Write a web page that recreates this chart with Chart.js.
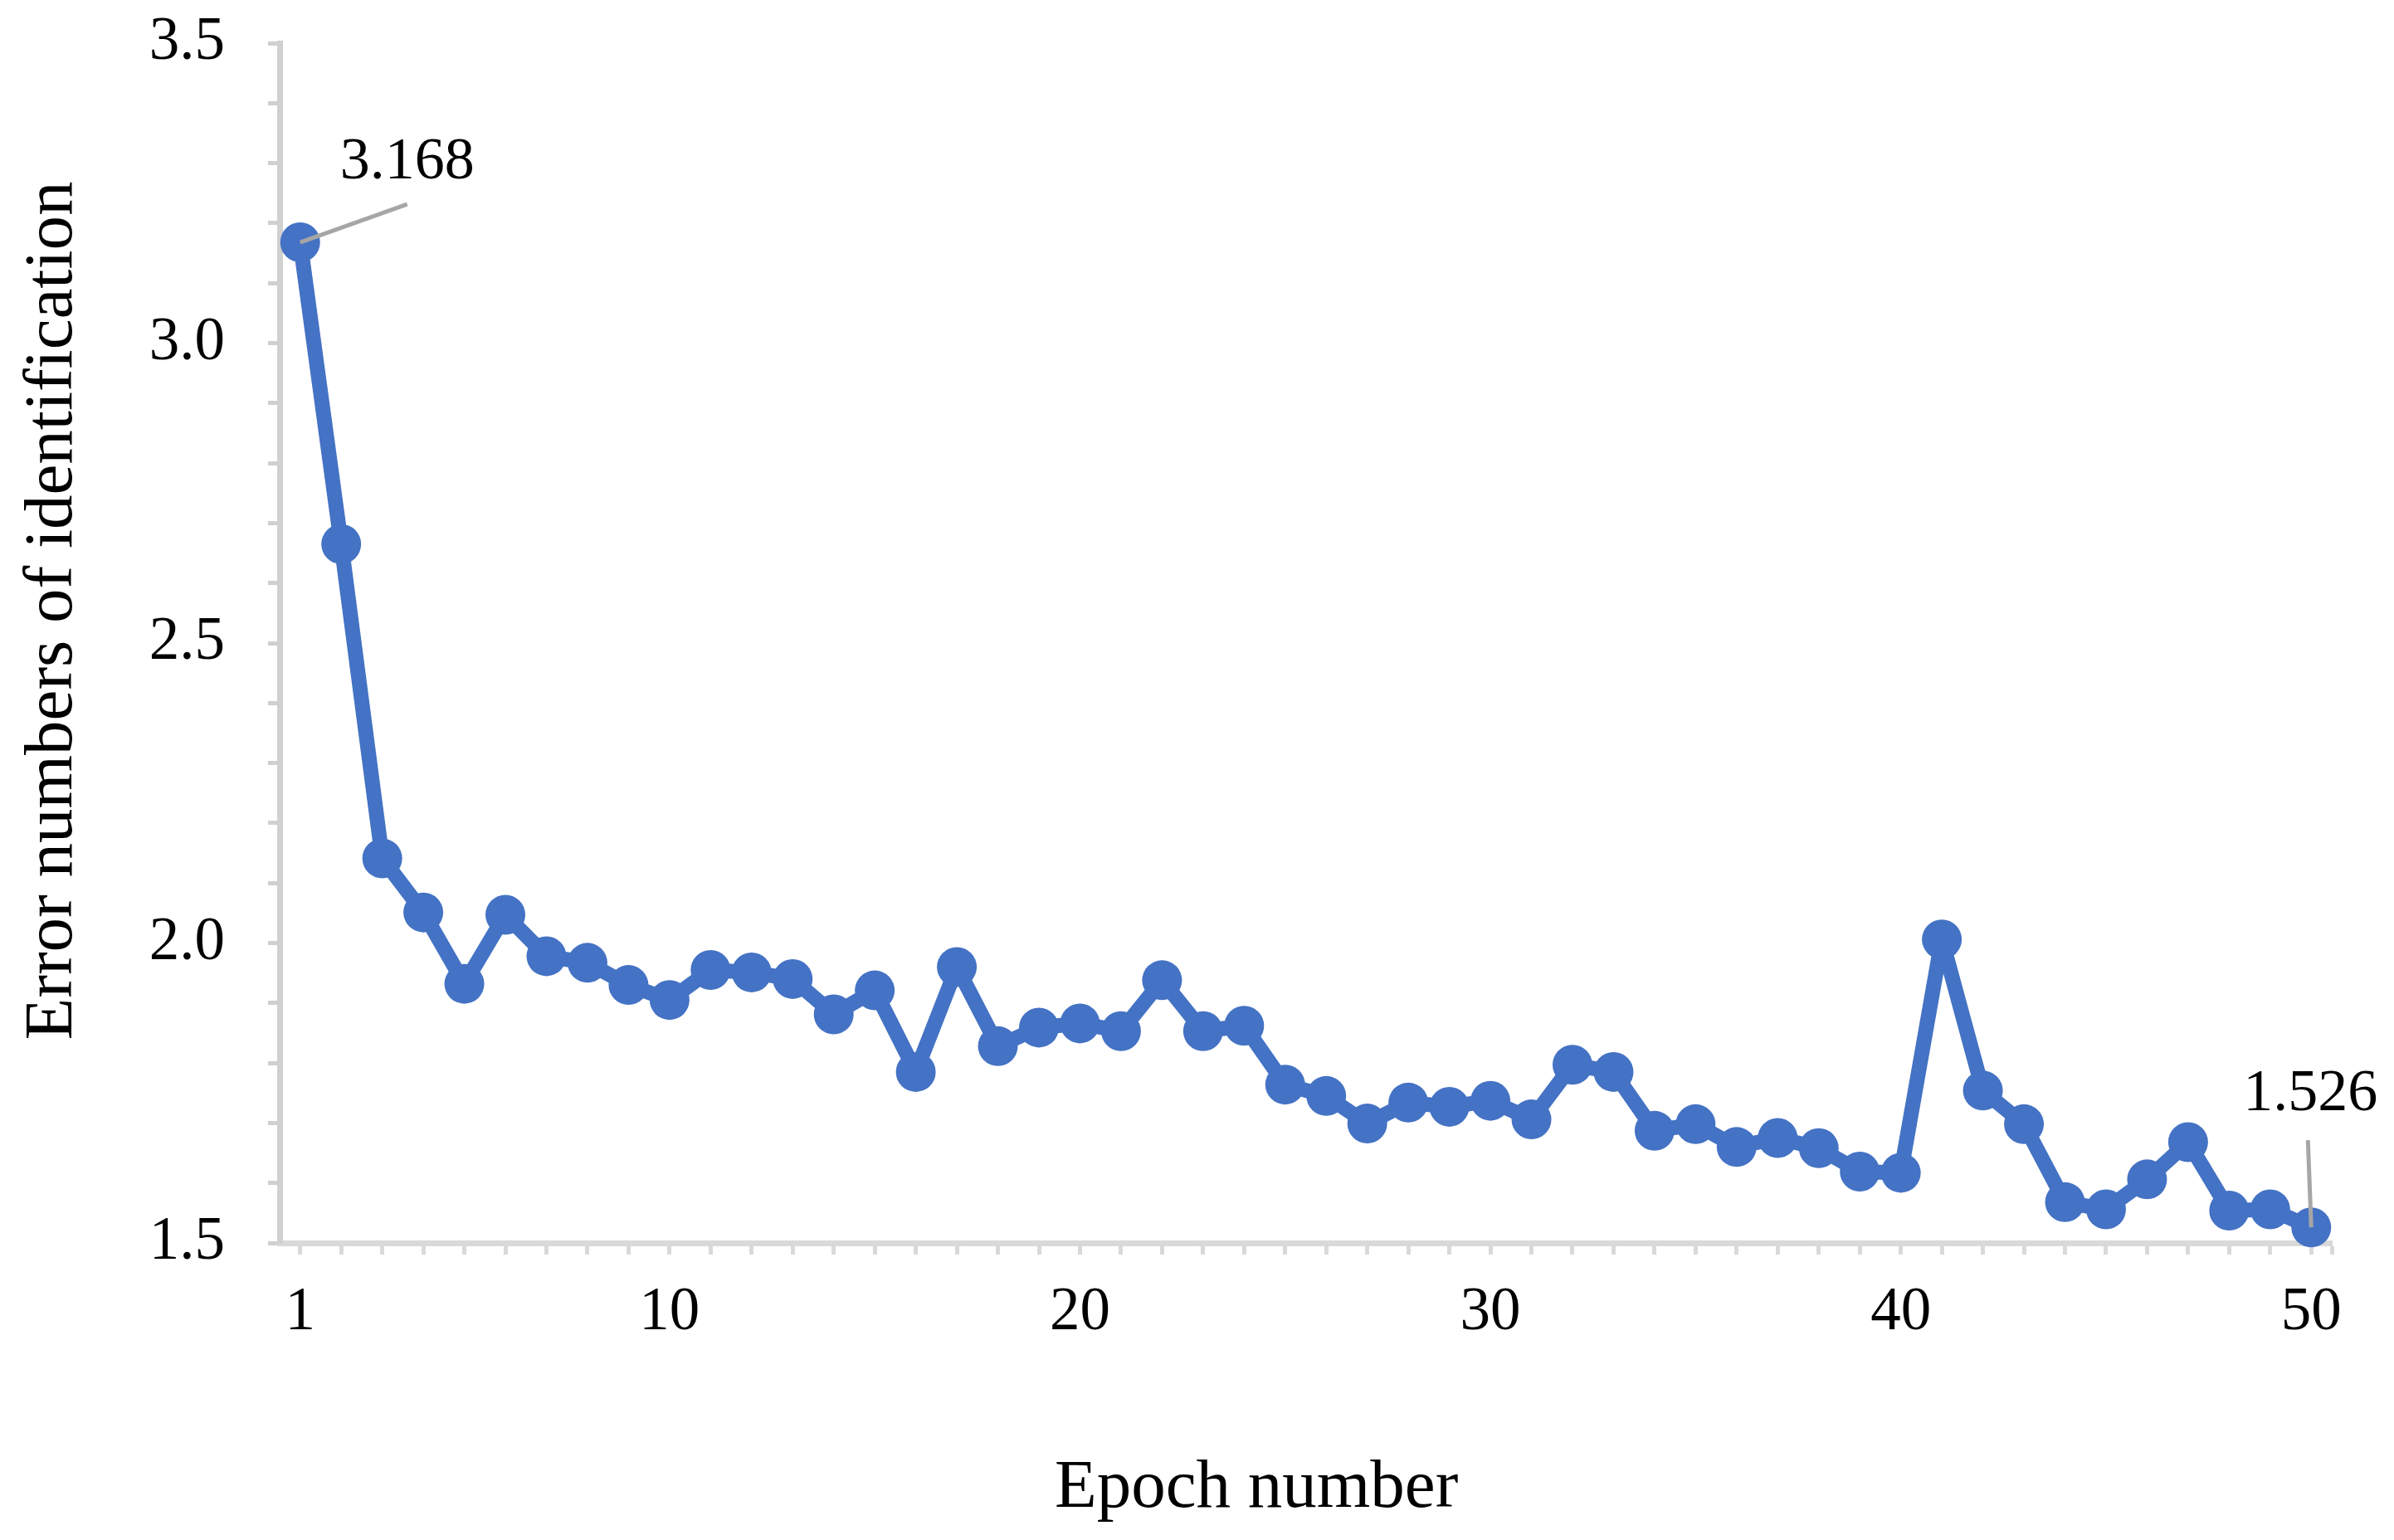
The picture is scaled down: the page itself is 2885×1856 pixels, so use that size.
<!DOCTYPE html>
<html>
<head>
<meta charset="utf-8">
<script src="https://cdn.jsdelivr.net/npm/chart.js@4/dist/chart.umd.min.js"></script>
<style>
  html, body { margin: 0; padding: 0; background: #fff; }
  #wrap { width: 2885px; height: 1856px; position: relative; }
</style>
</head>
<body>
<div id="wrap"><canvas id="error-chart"></canvas></div>
<script>
const epochs = [];
for (let i = 1; i <= 50; i++) epochs.push(i);

const errors = [
  3.168, 2.665, 2.141, 2.051, 1.932, 2.047, 1.978, 1.967, 1.930, 1.905,
  1.955, 1.951, 1.940, 1.881, 1.921, 1.785, 1.960, 1.828, 1.859, 1.866,
  1.853, 1.938, 1.853, 1.862, 1.764, 1.745, 1.699, 1.734, 1.727, 1.737,
  1.706, 1.797, 1.785, 1.687, 1.698, 1.660, 1.675, 1.658, 1.619, 1.617,
  2.006, 1.754, 1.698, 1.568, 1.556, 1.606, 1.668, 1.554, 1.556, 1.526
];

const xLabelTicks = [1, 10, 20, 30, 40, 50];
const labelledPoints = [0, 49]; // first and last epoch get a data label
const xTitle = "Epoch number";
const yTitle = "Error numbers of identification";

const blue = "#4472C4";
const serif = "'Liberation Serif', 'Times New Roman', serif";

const ctx = document.getElementById("error-chart").getContext("2d");

// data labels with grey leader lines, like the Excel callouts
const calloutPlugin = {
  id: "callouts",
  afterDatasetsDraw(chart) {
    const c = chart.ctx;
    const meta = chart.getDatasetMeta(0);
    const offsets = {
      0: { lx: 129, ly: -46, tx: 129, ty: -96 },
      49: { lx: -4, ly: -105, tx: -1, ty: -160 }
    };
    c.save();
    labelledPoints.forEach(i => {
      const pt = meta.data[i];
      const o = offsets[i];
      c.strokeStyle = "#A6A6A6";
      c.lineWidth = 5;
      c.beginPath();
      c.moveTo(pt.x, pt.y);
      c.lineTo(pt.x + o.lx, pt.y + o.ly);
      c.stroke();

      c.font = "72px " + serif;
      c.fillStyle = "#000";
      c.textAlign = "center";
      c.textBaseline = "middle";
      c.fillText(errors[i].toFixed(3), pt.x + o.tx, pt.y + o.ty);
    });
    c.restore();
  }
};

// axis titles, placed where Excel put them (not centred on the plot area)
const axisTitlePlugin = {
  id: "axisTitles",
  afterDraw(chart) {
    const c = chart.ctx;
    const area = chart.chartArea;
    c.save();
    c.font = "83px " + serif;
    c.fillStyle = "#000";
    c.textAlign = "center";
    c.textBaseline = "middle";
    c.fillText(xTitle, area.left + (area.right - area.left) * 0.476, chart.height - 62);
    c.translate(64, area.top + (area.bottom - area.top) * 0.473);
    c.rotate(-Math.PI / 2);
    c.fillText(yTitle, 0, 0);
    c.restore();
  }
};

new Chart(ctx, {
  type: "line",
  data: {
    datasets: [{
      data: epochs.map((e, i) => ({ x: e, y: errors[i] })),
      borderColor: blue,
      backgroundColor: blue,
      borderWidth: 18,
      borderJoinStyle: "round",
      borderCapStyle: "round",
      pointRadius: 24,
      pointBorderWidth: 0,
      pointBackgroundColor: blue,
      tension: 0,
      clip: false
    }]
  },
  options: {
    responsive: true,
    maintainAspectRatio: false,
    devicePixelRatio: 1,
    animation: false,
    layout: {
      padding: { top: 52, right: 75, bottom: 0, left: 0 }
    },
    plugins: {
      legend: { display: false },
      tooltip: { enabled: false }
    },
    scales: {
      x: {
        type: "linear",
        min: 0.5,
        max: 50.5,
        afterBuildTicks: (scale) => {
          scale.ticks = epochs.map(v => ({ value: v })).concat([{ value: scale.max }]);
        },
        afterFit: (scale) => {
          scale.height = 358;
          scale.paddingLeft = 0;
          scale.paddingRight = 0;
        },
        border: { display: true, color: "#D9D9D9", width: 7 },
        grid: {
          display: true,
          drawOnChartArea: false,
          drawTicks: true,
          tickLength: 14,
          tickWidth: 5,
          color: "#D9D9D9"
        },
        ticks: {
          autoSkip: false,
          maxRotation: 0,
          padding: 27,
          color: "#000",
          font: { family: serif, size: 73 },
          callback: (v) => xLabelTicks.includes(v) ? String(v) : ""
        }
      },
      y: {
        min: 1.5,
        max: 3.5,
        afterFit: (scale) => {
          scale.width = 337;
          scale.paddingTop = 0;
          scale.paddingBottom = 0;
        },
        border: { display: true, color: "#D0D0D0", width: 7 },
        grid: {
          display: true,
          drawOnChartArea: false,
          drawTicks: true,
          tickLength: 14,
          tickWidth: 5,
          color: "#D0D0D0"
        },
        ticks: {
          stepSize: 0.1,
          autoSkip: false,
          padding: 52,
          color: "#000",
          font: { family: serif, size: 73 },
          callback: (v) => Math.abs(v * 2 - Math.round(v * 2)) < 1e-6 ? v.toFixed(1) : ""
        }
      }
    }
  },
  plugins: [calloutPlugin, axisTitlePlugin]
});
</script>
</body>
</html>
